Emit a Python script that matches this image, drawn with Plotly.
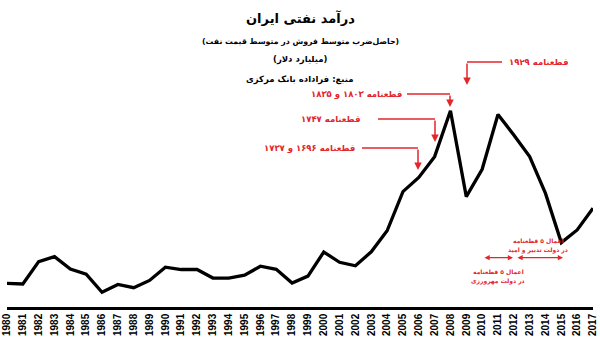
import plotly.graph_objects as go

years = list(range(1980, 2018))
revenue = [10.1, 9.8, 20.0, 22.3, 16.6, 14.3, 6.0, 9.6, 8.1, 11.4,
           17.5, 16.4, 16.4, 12.5, 12.5, 13.8, 17.9, 16.5, 10.2, 13.4,
           24.4, 19.7, 18.1, 24.5, 34.1, 52.0, 58.5, 68.0, 89.0, 49.7,
           62.2, 87.3, 77.9, 68.0, 51.2, 28.7, 34.5, 44.4]
tick_labels = [str(y) for y in years]

title_lines = ["درآمد نفتی ایران",
               "(حاصل\u200cضرب متوسط فروش در متوسط قیمت نفت)",
               "(میلیارد دلار)",
               "منبع: فراداده بانک مرکزی"]

RED = "#e3262b"
FONT = "DejaVu Sans"

W, H = 600, 338
ML, MR, MT, MB = 7, 7, 0, 31
PH = H - MT - MB


def px_to_year(x):
    return 1980 + (x - ML) / ((W - ML - MR) / 37)


def py(y):
    return (H - MB - y) / PH


fig = go.Figure()
fig.add_trace(go.Scatter(x=years, y=revenue, mode="lines",
                         line=dict(color="black", width=3.3),
                         hoverinfo="skip"))

annotations = []
shapes = []

# titles
for text, ypix, size in zip(title_lines, [18, 42, 60, 79], [13, 7.8, 8.5, 8.5]):
    annotations.append(dict(text="<b>%s</b>" % text, x=0.5, xref="paper",
                            y=py(ypix), yref="paper", showarrow=False,
                            font=dict(family=FONT, size=size, color="black"),
                            xanchor="center", yanchor="middle"))

# resolution callouts
callouts = [
    ("قطعنامه ۱۹۲۹", 507, "left", 62, 467, 502, 85, 467),
    ("قطعنامه ۱۸۰۳ و ۱۸۳۵", 404, "right", 94, 407, 450, 107, 450),
    ("قطعنامه ۱۷۴۷", 362, "right", 119, 378, 435, 142, 435),
    ("قطعنامه ۱۶۹۶ و ۱۷۳۷", 357, "right", 148, 362, 418, 170, 418),
]
for label, tx, side, ty, lx0, lx1, tip, ax_ in callouts:
    annotations.append(dict(text="<b>%s</b>" % label, x=px_to_year(tx), xref="x",
                            y=py(ty), yref="paper", showarrow=False,
                            font=dict(family=FONT, size=8.5, color=RED),
                            xanchor=side, yanchor="middle"))
    shapes.append(dict(type="line", xref="x", yref="paper",
                       x0=px_to_year(lx0), x1=px_to_year(lx1), y0=py(ty), y1=py(ty),
                       line=dict(color=RED, width=1.5)))
    annotations.append(dict(text="", x=px_to_year(ax_), xref="x", y=py(tip), yref="paper",
                            showarrow=True, arrowhead=2, arrowsize=1, arrowwidth=1.5,
                            arrowcolor=RED, ax=0, ay=-(tip - ty)))

# government period double arrows
periods = [
    (483, 513, ["اعمال ۵ قطعنامه", "در دولت مهرورزی"], 498, [271.5, 281]),
    (516, 563, ["اعمال ۵ قطعنامه", "در دولت تدبیر و امید"], 538, [240.5, 249.5]),
]
for x0, x1, lines, tcx, tys in periods:
    annotations.append(dict(text="", x=px_to_year(x1), xref="x", y=py(257.7), yref="paper",
                            ax=px_to_year(x0), axref="x", ay=0, ayref="pixel",
                            showarrow=True, arrowhead=2, startarrowhead=2, arrowside="end+start",
                            arrowsize=0.8, startarrowsize=0.8, arrowwidth=1.3, arrowcolor=RED))
    for t, ty in zip(lines, tys):
        annotations.append(dict(text="<b>%s</b>" % t, x=px_to_year(tcx), xref="x",
                                y=py(ty), yref="paper", showarrow=False,
                                font=dict(family=FONT, size=6, color=RED),
                                xanchor="center", yanchor="middle"))

fig.update_layout(
    width=W, height=H,
    margin=dict(l=ML, r=MR, t=MT, b=MB),
    paper_bgcolor="white", plot_bgcolor="white",
    showlegend=False,
    annotations=annotations, shapes=shapes,
    xaxis=dict(range=[1980, 2017], tickmode="array", tickvals=years,
               ticktext=["<b>%s</b>" % t for t in tick_labels], tickangle=-90,
               tickfont=dict(family="Liberation Sans", size=10, color="black"),
               showgrid=False, zeroline=False, showline=True,
               linecolor="black", linewidth=2.5, ticks=""),
    yaxis=dict(range=[-0.73, 139.6], visible=False, showgrid=False, zeroline=False),
)

fig.write_html("out.html")
